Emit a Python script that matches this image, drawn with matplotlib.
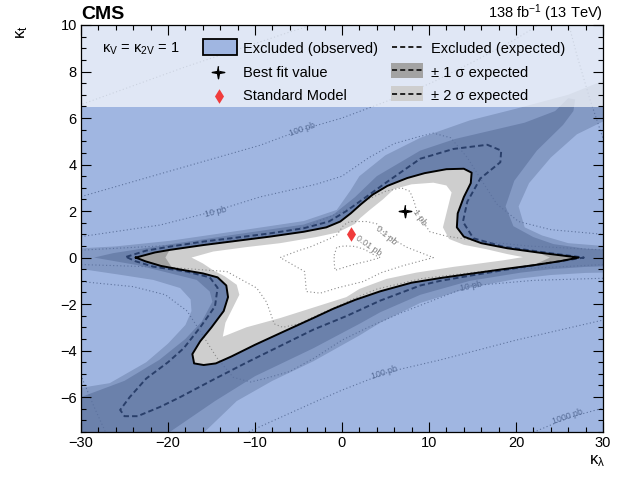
import numpy as np
import matplotlib
matplotlib.use("Agg")
import matplotlib.pyplot as plt
from matplotlib.path import Path
from matplotlib.patches import PathPatch, Rectangle

plt.rcParams['font.family'] = ['Liberation Sans', 'DejaVu Sans']
plt.rcParams['mathtext.fontset'] = 'custom'
plt.rcParams['mathtext.rm'] = 'Liberation Sans'
plt.rcParams['mathtext.it'] = 'Liberation Sans:italic'
plt.rcParams['mathtext.bf'] = 'Liberation Sans:bold'

# ---------------- data (kappa_lambda, kappa_t) ----------------
OBSERVED = [(-23.7, 0.00), (-21.5, 0.22), (-19.8, 0.33), (-15.9, 0.54), (-12.1, 0.72), (-8.3, 0.90),
            (-4.4, 1.11), (-1.8, 1.30), (-0.2, 1.55), (1.0, 1.90), (2.2, 2.30), (3.5, 2.70), (5.2, 3.08),
            (7.5, 3.42), (9.5, 3.63), (12.0, 3.80), (14.0, 3.82), (14.9, 3.65), (14.8, 3.20), (14.0, 2.60),
            (13.3, 1.90), (13.2, 1.30), (14.0, 0.90), (16.0, 0.62), (19.0, 0.40), (22.5, 0.22), (25.5, 0.08),
            (27.2, 0.00), (25.0, -0.16), (22.0, -0.33), (18.5, -0.50), (14.7, -0.70), (11.3, -0.88),
            (8.0, -1.08), (4.4, -1.45), (1.5, -1.82), (-1.0, -2.20), (-3.3, -2.60), (-7.1, -3.25),
            (-10.0, -3.75), (-12.7, -4.25), (-14.5, -4.55), (-15.9, -4.62), (-17.0, -4.55), (-17.2, -4.15),
            (-16.3, -3.60), (-15.0, -3.00), (-13.6, -2.30), (-13.1, -1.70), (-13.3, -1.20), (-14.3, -0.85),
            (-16.0, -0.68), (-18.5, -0.52), (-20.8, -0.36), (-22.6, -0.16)]

EXPECTED = [(-24.8, 0.03), (-22.5, 0.30), (-19.8, 0.47), (-15.9, 0.69), (-12.1, 0.86), (-8.3, 1.04),
            (-4.4, 1.26), (-1.5, 1.55), (0.5, 2.00), (2.0, 2.40), (5.2, 3.26), (9.0, 4.25), (12.8, 4.67),
            (16.7, 4.85), (18.3, 4.60), (18.2, 4.10), (15.9, 3.40), (14.4, 2.40), (13.9, 1.54), (15.1, 0.83),
            (18.5, 0.47), (24.3, 0.17), (27.8, 0.00), (24.3, -0.20), (20.5, -0.42), (14.7, -0.78),
            (11.3, -1.00), (9.0, -1.20), (4.4, -1.85), (0.6, -2.50), (-3.3, -3.10), (-7.1, -3.80),
            (-10.9, -4.50), (-14.8, -5.25), (-18.6, -6.00), (-20.9, -6.42), (-23.5, -6.82), (-25.0, -6.82),
            (-25.5, -6.55), (-24.4, -6.00), (-22.5, -5.20), (-20.0, -4.50), (-18.2, -3.90), (-16.3, -3.00),
            (-14.6, -2.10), (-14.3, -1.30), (-15.2, -0.85), (-17.9, -0.60), (-21.7, -0.39), (-23.8, -0.15)]

# inner edge of the +-2 sigma band (white region)
SIG2_INNER = [(-17.3, 0.00), (-14.8, 0.26), (-11.0, 0.45), (-7.1, 0.62), (-3.0, 0.88), (-0.5, 1.08),
              (1.5, 1.45), (2.1, 1.70), (3.2, 2.05), (4.7, 2.50), (6.0, 2.95), (8.0, 3.15), (10.5, 3.22),
              (12.0, 3.10), (12.6, 2.80), (12.0, 1.90), (11.6, 1.30), (12.3, 0.80), (14.0, 0.55),
              (16.6, 0.36), (19.0, 0.15), (20.8, 0.02), (18.5, -0.12), (15.5, -0.27), (12.8, -0.40),
              (8.5, -0.65), (5.1, -0.92), (2.0, -1.35), (0.5, -1.70), (-3.3, -2.15), (-7.1, -2.60),
              (-11.0, -3.00), (-13.0, -3.30), (-13.7, -3.40), (-13.4, -2.80), (-12.6, -2.20), (-11.8, -1.60),
              (-12.1, -1.17), (-13.5, -0.80), (-14.8, -0.55), (-16.0, -0.25)]

# inner edge of the +-1 sigma band
SIG1_INNER = [(-20.3, 0.00), (-19.8, 0.33), (-15.9, 0.54), (-12.1, 0.72), (-8.3, 0.90), (-4.4, 1.11),
              (-1.8, 1.30), (-0.2, 1.55), (1.0, 1.90), (2.2, 2.30), (3.5, 2.70), (5.2, 3.08), (7.5, 3.42),
              (9.5, 3.63), (12.0, 3.80), (14.0, 3.82), (14.9, 3.65), (14.8, 3.20), (14.0, 2.60), (13.3, 1.90),
              (13.2, 1.30), (14.0, 0.90), (16.0, 0.62), (19.0, 0.40), (22.5, 0.22), (23.9, 0.00),
              (22.0, -0.33), (18.5, -0.50), (14.7, -0.70), (11.3, -0.88), (8.0, -1.08), (4.4, -1.45),
              (1.5, -1.82), (-1.0, -2.20), (-3.3, -2.60), (-7.1, -3.25), (-10.0, -3.75), (-12.7, -4.25),
              (-14.5, -4.55), (-15.9, -4.62), (-17.0, -4.55), (-17.2, -4.15), (-16.3, -3.60), (-15.0, -3.00),
              (-13.6, -2.30), (-13.1, -1.70), (-13.3, -1.20), (-14.3, -0.85), (-16.0, -0.68), (-18.5, -0.52),
              (-19.6, -0.40)]

# outer edge of the +-1 sigma band (runs out of the frame)
SIG1_OUTER = [(-28.5, 0.00), (-26.3, 0.19), (-19.8, 0.57), (-12.1, 1.00), (-4.4, 1.42), (-1.0, 1.85),
              (1.5, 2.60), (4.0, 3.50), (9.0, 4.60), (13.0, 5.10), (17.0, 5.45), (21.0, 5.80), (24.5, 6.30),
              (26.0, 6.85), (26.8, 6.80), (26.6, 6.30), (25.4, 5.70), (22.4, 4.60), (19.8, 3.30), (18.8, 2.20),
              (19.7, 1.35), (22.0, 0.88), (24.3, 0.58), (28.0, 0.38), (34.0, 0.28), (34.0, -0.33),
              (28.0, -0.40), (24.0, -0.50), (20.5, -0.65), (14.7, -1.00), (9.0, -1.60), (4.4, -2.35),
              (2.0, -2.85), (-3.3, -3.90), (-10.0, -5.10), (-14.6, -6.17), (-19.8, -7.50), (-21.0, -8.50),
              (-34.0, -8.50), (-34.0, -6.30), (-30.0, -6.00), (-25.0, -5.30), (-21.0, -4.40), (-18.0, -3.50),
              (-16.1, -2.74), (-14.9, -1.90), (-15.2, -1.46), (-16.7, -0.96), (-19.8, -0.67), (-23.6, -0.32)]

# outer edge of the +-2 sigma band (runs out of the frame)
SIG2_OUTER = [(-34.0, 0.45), (-30.0, 0.40), (-26.0, 0.48), (-19.8, 0.72), (-12.1, 1.14), (-4.4, 1.57),
              (-0.6, 2.05), (1.0, 2.90), (2.0, 3.50), (5.0, 4.40), (9.0, 5.15), (14.7, 5.90), (20.0, 6.40),
              (26.0, 7.00), (30.0, 7.60), (34.0, 8.20), (34.0, 5.70), (30.0, 5.85), (27.0, 5.30), (24.0, 4.30),
              (21.5, 3.20), (20.3, 2.20), (21.0, 1.30), (23.0, 0.95), (26.0, 0.62), (30.0, 0.50), (34.0, 0.45),
              (34.0, -0.62), (28.0, -0.66), (24.0, -0.75), (20.0, -0.92), (14.7, -1.30), (9.0, -1.95),
              (4.4, -2.80), (2.0, -3.35), (-3.3, -4.46), (-8.0, -5.30), (-12.1, -6.17), (-15.8, -7.50),
              (-17.0, -8.50), (-34.0, -8.50), (-34.0, -5.80), (-30.0, -5.60), (-26.7, -5.40), (-22.5, -4.50),
              (-20.0, -3.70), (-18.0, -2.90), (-17.3, -2.30), (-17.4, -1.80), (-18.6, -1.31), (-21.7, -0.96),
              (-25.5, -0.74), (-30.0, -0.49), (-34.0, -0.47)]

# theory cross-section iso-lines
XS_001 = [(-0.9, 0.10), (-0.6, 0.45), (0.3, 0.50), (1.5, 0.48), (2.6, 0.35), (3.5, 0.15), (4.4, 0.00),
          (3.0, -0.15), (1.5, -0.28), (0.0, -0.45), (-0.8, -0.55), (-0.9, -0.20), (-0.9, 0.10)]
XS_01 = [(-7.1, 0.00), (-5.0, 0.30), (-3.7, 0.45), (-1.5, 0.80), (-0.6, 0.97), (0.2, 1.40), (0.9, 1.55),
         (2.85, 1.55), (4.0, 1.45), (5.1, 0.97), (7.4, 0.45), (10.5, 0.00), (7.0, -0.35), (4.5, -0.65),
         (2.45, -1.03), (-0.5, -1.30), (-2.5, -1.53), (-4.1, -1.46), (-4.2, -1.00), (-4.3, -0.60), (-7.1, 0.00)]
XS_1_UP = [(-30.0, 0.32), (-17.2, 0.57), (-9.2, 0.92), (-4.05, 1.35), (-1.7, 1.71), (0.0, 1.98), (2.4, 2.40),
           (5.0, 2.85), (6.8, 3.00), (7.8, 2.85), (8.3, 2.40), (8.6, 1.97), (9.2, 1.60), (10.1, 1.11),
           (12.0, 0.92), (15.6, 0.72), (21.3, 0.50), (30.0, 0.33)]
XS_1_LO = [(30.0, -0.30), (17.2, -0.55), (9.2, -0.90), (4.05, -1.35), (1.7, -1.71), (0.0, -2.00),
           (-2.4, -2.40), (-5.0, -2.85), (-6.8, -3.00), (-7.8, -2.85), (-8.3, -2.30), (-8.7, -1.90),
           (-9.8, -1.31), (-13.25, -0.60), (-20.0, -0.42), (-30.0, -0.30)]
XS_10_UP = [(-30.0, 0.90), (-20.9, 1.40), (-14.6, 2.00), (-9.4, 2.61), (-3.0, 3.15), (0.0, 3.50), (3.1, 4.30),
            (6.0, 4.90), (8.85, 5.20), (10.5, 5.35), (12.5, 5.15), (14.4, 4.30), (16.3, 3.17), (17.8, 2.30),
            (20.3, 1.55), (24.0, 1.20), (30.0, 1.00)]
XS_10_LO = [(30.0, -0.89), (22.0, -0.98), (14.7, -1.22), (6.7, -2.39), (3.0, -3.00), (0.0, -3.55),
            (-3.1, -4.30), (-6.0, -4.90), (-8.85, -5.20), (-10.5, -5.35), (-12.5, -5.15), (-14.4, -4.30),
            (-16.3, -3.17), (-17.8, -2.30), (-20.3, -1.60), (-24.0, -1.25), (-30.0, -1.03)]
XS_100_UP = [(-30.0, 2.62), (-20.9, 3.60), (-9.4, 4.83), (-4.6, 5.50), (0.0, 6.00), (5.0, 6.70), (10.2, 7.50),
             (15.0, 8.40), (20.0, 9.40), (23.0, 10.10), (24.5, 10.60), (25.8, 10.40), (27.0, 8.70),
             (28.5, 6.80), (30.2, 4.90)]
XS_100_LO = [(30.2, -2.67), (20.0, -3.55), (11.3, -4.40), (6.7, -4.80), (4.9, -4.98), (0.0, -5.70),
             (-2.9, -6.17), (-10.2, -7.40), (-12.0, -7.70)]
XS_100_LL = [(-30.2, -4.90), (-28.4, -6.50), (-26.7, -7.90)]
XS_1000_UP = [(-30.2, 6.55), (-18.0, 8.20), (-6.0, 9.70), (0.0, 10.40)]
XS_1000_LO = [(6.0, -9.70), (14.0, -8.65), (22.4, -7.45), (25.9, -6.90), (30.2, -6.45)]

XS_LABELS = ["0.01 pb", "0.1 pb", "1 pb", "10 pb", "100 pb", "10 pb", "100 pb", "1000 pb"]

BEST_FIT = (7.2, 2.0)
SM_POINT = (1.0, 1.0)

X_TICKS = [-30, -20, -10, 0, 10, 20, 30]
Y_TICKS = [-6, -4, -2, 0, 2, 4, 6, 8, 10]

# ---------------- styles ----------------
BLUE = '#1e52b8'
BLUE_ALPHA = 0.42
BLUE_ON_WHITE = '#a0b6e1'
GREY1 = '#a3a3a3'
GREY2 = '#cecece'
XS_COLOR = '#8a8a8a'
SM_COLOR = '#f03c3c'


def ring_path(outer, inner):
    outer = np.asarray(outer, float)
    inner = np.asarray(inner, float)

    def area(p):
        x, y = p[:, 0], p[:, 1]
        return 0.5 * np.sum(x * np.roll(y, -1) - np.roll(x, -1) * y)
    if area(outer) < 0:
        outer = outer[::-1]
    if area(inner) > 0:
        inner = inner[::-1]
    verts = np.concatenate([outer, outer[:1], inner, inner[:1]])
    codes = ([Path.MOVETO] + [Path.LINETO] * (len(outer) - 1) + [Path.CLOSEPOLY] +
             [Path.MOVETO] + [Path.LINETO] * (len(inner) - 1) + [Path.CLOSEPOLY])
    return Path(verts, codes)


def closed(pts):
    a = np.asarray(pts, float)
    return np.vstack([a, a[:1]])


fig = plt.figure(figsize=(6.23, 4.79), dpi=100)
ax = fig.add_axes([81 / 623, 1 - 432 / 479, 522 / 623, 407 / 479])
ax.set_xlim(-30, 30)
ax.set_ylim(-7.5, 10)

# bands
ax.add_patch(PathPatch(ring_path(SIG2_OUTER, SIG2_INNER), facecolor=GREY2, edgecolor='none', zorder=1))
ax.add_patch(PathPatch(ring_path(SIG1_OUTER, SIG1_INNER), facecolor=GREY1, edgecolor='none', zorder=1.5))

# cross-section iso-lines
for line in [XS_001, XS_01, XS_1_UP, XS_1_LO, XS_10_UP, XS_10_LO, XS_100_UP, XS_100_LO, XS_100_LL,
             XS_1000_UP, XS_1000_LO]:
    a = np.asarray(line)
    ax.plot(a[:, 0], a[:, 1], color=XS_COLOR, lw=0.8, linestyle=(0, (1, 2.2)), zorder=2)

label_pos = [(3.0, 0.52), (5.1, 0.97), (8.9, 1.72), (-14.5, 1.97), (-4.6, 5.52), (14.8, -1.24),
             (4.9, -4.95), (25.9, -6.85)]
label_rot = [-35, -40, -55, 14, 19, 12, 18, 19]
for txt, (lx, ly), rot in zip(XS_LABELS, label_pos, label_rot):
    ax.text(lx, ly, txt, fontsize=6.3, color='#808080', rotation=rot, rotation_mode='anchor',
            ha='center', va='center', zorder=2)

# expected contour (under the translucent fill)
e = closed(EXPECTED)
ax.plot(e[:, 0], e[:, 1], color='#333333', lw=1.4, dashes=(2.8, 1.6), zorder=2.5)

# excluded region (translucent blue outside observed contour)
big = [(-60, -40), (60, -40), (60, 40), (-60, 40)]
ax.add_patch(PathPatch(ring_path(big, OBSERVED), facecolor=BLUE, alpha=BLUE_ALPHA, edgecolor='none', zorder=3))

o = closed(OBSERVED)
ax.plot(o[:, 0], o[:, 1], color='black', lw=1.4, zorder=4, solid_joinstyle='round')

# markers
t = np.arange(8) * np.pi / 4 + np.pi / 2
r = np.where(np.arange(8) % 2 == 0, 1.0, 0.22)
STAR = Path(np.column_stack([r * np.cos(t), r * np.sin(t)]))
DIAM = Path([(0, 1), (0.62, 0), (0, -1), (-0.62, 0), (0, 1)])
ax.plot([BEST_FIT[0]], [BEST_FIT[1]], marker=STAR, ms=9, color='black', ls='none', zorder=5)
ax.plot([SM_POINT[0]], [SM_POINT[1]], marker=DIAM, ms=10.5, color=SM_COLOR, mec='none', ls='none', zorder=5)

# legend box
ax.add_patch(Rectangle((0, 0.7985), 1, 0.2015, transform=ax.transAxes, facecolor='white', alpha=0.68,
                       edgecolor='none', zorder=6))
T = ax.transAxes
fs = 10.5
ax.text(0.040, 0.931, 'κ$_\\mathrm{V}$ = κ$_\\mathrm{2V}$ = 1', transform=T, fontsize=fs, va='baseline', zorder=7)
ax.add_patch(Rectangle((0.2337, 0.926), 0.0652, 0.040, transform=T, facecolor=BLUE_ON_WHITE,
                       edgecolor='black', lw=1.3, zorder=7))
ax.text(0.310, 0.931, 'Excluded (observed)', transform=T, fontsize=fs, va='baseline', zorder=7)
ax.plot([0.263], [0.885], marker=STAR, ms=9, color='black', transform=T, ls='none', zorder=7, clip_on=False)
ax.text(0.310, 0.872, 'Best fit value', transform=T, fontsize=fs, va='baseline', zorder=7)
ax.plot([0.264], [0.826], marker=DIAM, ms=10.5, color=SM_COLOR, mec='none', transform=T, ls='none',
        zorder=7, clip_on=False)
ax.text(0.310, 0.816, 'Standard Model', transform=T, fontsize=fs, va='baseline', zorder=7)

ax.plot([0.596, 0.655], [0.946, 0.946], color='#222222', lw=1.4, dashes=(2.6, 1.6), transform=T, zorder=7)
ax.text(0.670, 0.931, 'Excluded (expected)', transform=T, fontsize=fs, va='baseline', zorder=7)
ax.add_patch(Rectangle((0.594, 0.870), 0.061, 0.037, transform=T, facecolor=GREY1, edgecolor='none', zorder=7))
ax.plot([0.596, 0.655], [0.8885, 0.8885], color='#222222', lw=1.4, dashes=(2.6, 1.6), transform=T, zorder=7.5)
ax.text(0.670, 0.872, '± 1 σ expected', transform=T, fontsize=fs, va='baseline', zorder=7)
ax.add_patch(Rectangle((0.594, 0.813), 0.061, 0.037, transform=T, facecolor=GREY2, edgecolor='none', zorder=7))
ax.plot([0.596, 0.655], [0.8315, 0.8315], color='#222222', lw=1.4, dashes=(2.6, 1.6), transform=T, zorder=7.5)
ax.text(0.670, 0.816, '± 2 σ expected', transform=T, fontsize=fs, va='baseline', zorder=7)

# axes styling
ax.set_xticks(X_TICKS)
ax.set_yticks(Y_TICKS)
ax.set_xticks(np.arange(-30, 31, 2), minor=True)
ax.set_yticks(np.arange(-7.5, 10.01, 0.5), minor=True)
ax.tick_params(which='both', direction='in', top=True, right=True, labelsize=10.5, width=0.8)
ax.tick_params(which='major', length=7, pad=3)
ax.tick_params(which='minor', length=3.5)
for s in ax.spines.values():
    s.set_linewidth(0.9)
    s.set_zorder(10)
ax.xaxis.set_zorder(10)
ax.yaxis.set_zorder(10)

ax.text(-0.113, 1.0, 'κ$_\\mathrm{t}$', transform=T, rotation=90, ha='center', va='top', fontsize=12)
ax.text(1.004, -0.052, 'κ$_\\mathrm{λ}$', transform=T, ha='right', va='top', fontsize=12)

fig.text(81 / 623, 1 - 19 / 479, 'CMS', fontweight='bold', fontsize=14, ha='left', va='baseline')
fig.text(603 / 623, 1 - 18 / 479, '138 fb$^{\\mathrm{-1}}$ (13 TeV)', fontsize=10.5, ha='right', va='baseline')

fig.savefig('out.png', dpi=100)
